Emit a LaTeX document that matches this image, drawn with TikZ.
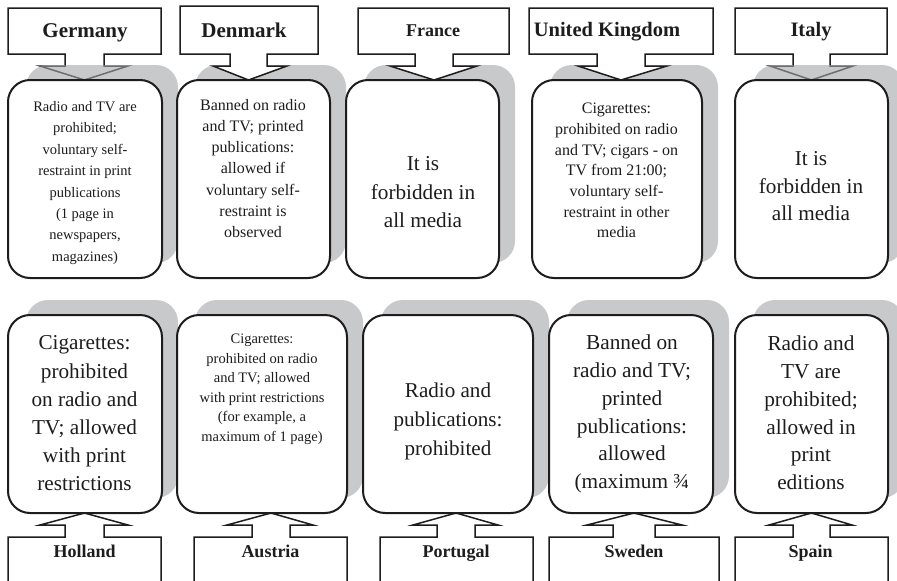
\documentclass[tikz,border=0pt]{standalone}
\usepackage{fontspec}
\setmainfont{Liberation Serif}
\definecolor{shadowbase}{RGB}{164,165,168}
\definecolor{inkc}{RGB}{30,28,29}
\tikzset{
  shadowbox/.style={fill=shadowbase, fill opacity=0.6, rounded corners=22pt},
  mainbox/.style={draw=inkc, line width=2pt, fill=white, rounded corners=22pt, inner sep=0pt},
  callout/.style={draw=inkc, line width=1.5pt, fill=white, line join=miter},
  hdr/.style={font=\bfseries\fontsize{#1}{#1}\selectfont, anchor=base, inner sep=0pt, text=inkc},
  body/.style={align=center, inner sep=0pt, anchor=center, text=inkc},
}
\newcommand{\topcallout}[7]{%
  \filldraw[callout] (#1,#3) -- (#2,#3) -- (#2,54) -- (#5,54) -- (#5,66) -- (#7,66)
    -- ({(#4+#5)/2},80) -- (#6,66) -- (#4,66) -- (#4,54) -- (#1,54) -- cycle;}
\newcommand{\botcallout}[6]{%
  \filldraw[callout] (#1,583) -- (#1,537) -- (#3,537) -- (#3,525) -- (#5,525)
    -- ({(#3+#4)/2},513) -- (#6,525) -- (#4,525) -- (#4,537) -- (#2,537) -- (#2,583);}
\newcommand{\shadowrect}[4]{\fill[shadowbox] ({#1+18},{#3-15}) rectangle ({#2+16},{#4-15});}
\begin{document}
\begin{tikzpicture}[x=1pt,y=-1pt]
\useasboundingbox (0,0) rectangle (897,581);
% callouts under the shadow
\topcallout{8}{161}{8}{65}{104}{40}{128}
\topcallout{735}{887}{8}{793}{830}{770}{853}
% shadows
\shadowrect{8}{162}{80}{278}
\shadowrect{177}{330}{80}{278}
\shadowrect{346}{499}{80}{278}
\shadowrect{532}{702}{80}{278}
\shadowrect{735}{888}{80}{278}
\shadowrect{8}{162}{315}{513}
\shadowrect{177}{347}{315}{513}
\shadowrect{363}{533}{315}{513}
\shadowrect{549}{713}{315}{513}
\shadowrect{735}{888}{315}{513}
% callouts above the shadow
\topcallout{180}{318}{6}{230}{267}{213}{287}
\topcallout{358}{509}{8}{415}{453}{390}{477}
\topcallout{529}{713}{8}{597}{645}{578}{667}
\botcallout{8}{161}{65}{104}{40}{128}
\botcallout{194}{347}{252}{290}{227}{313}
\botcallout{380}{533}{437}{475}{413}{498}
\botcallout{549}{719}{613}{655}{587}{682}
\botcallout{735}{888}{793}{830}{769}{852}
% main boxes
\node[mainbox, minimum width=154pt, minimum height=198pt] (bGer) at (85,179) {};
\node[mainbox, minimum width=153pt, minimum height=198pt] (bDen) at (253.5,179) {};
\node[mainbox, minimum width=153pt, minimum height=198pt] (bFra) at (422.5,179) {};
\node[mainbox, minimum width=170pt, minimum height=198pt] (bUK) at (617,179) {};
\node[mainbox, minimum width=153pt, minimum height=198pt] (bIta) at (811.5,179) {};
\node[mainbox, minimum width=154pt, minimum height=198pt] (bHol) at (85,414) {};
\node[mainbox, minimum width=170pt, minimum height=198pt] (bAut) at (262,414) {};
\node[mainbox, minimum width=170pt, minimum height=198pt] (bPor) at (448,414) {};
\node[mainbox, minimum width=164pt, minimum height=198pt] (bSwe) at (631,414) {};
\node[mainbox, minimum width=153pt, minimum height=198pt] (bSpa) at (811.5,414) {};
% headers
\node[hdr=21] (hGer) at (85,37) {Germany};
\node[hdr=21] (hDen) at (244,37) {Denmark};
\node[hdr=18] (hFra) at (433,36) {France};
\node[hdr=20.5] (hUK) at (607,36.7) {United Kingdom};
\node[hdr=20.5] (hIta) at (811,36.7) {Italy};
\node[hdr=18] (hHol) at (84.7,557) {Holland};
\node[hdr=18] (hAut) at (270.5,557) {Austria};
\node[hdr=18] (hPor) at (456,557) {Portugal};
\node[hdr=18] (hSwe) at (634,557) {Sweden};
\node[hdr=18] (hSpa) at (810.7,557) {Spain};
% body texts
\node[body, font=\fontsize{14.5}{21.4}\selectfont] (tGer) at (85,183)
  {Radio and TV are\\prohibited;\\voluntary self-\\restraint in print\\publications\\(1 page in\\newspapers,\\magazines)};
\node[body, font=\fontsize{16}{21.3}\selectfont] (tDen) at (253,168.5)
  {Banned on radio\\and TV; printed\\publications:\\allowed if\\voluntary self-\\restraint is\\observed};
\node[body, font=\fontsize{21.2}{28.5}\selectfont] (tFra) at (423,192.5)
  {It is\\forbidden in\\all media};
\node[body, font=\fontsize{16}{20.7}\selectfont] (tUK) at (616.5,170.5)
  {Cigarettes:\\prohibited on radio\\and TV; cigars - on\\TV from 21:00;\\voluntary self-\\restraint in other\\media};
\node[body, font=\fontsize{21.2}{27.5}\selectfont] (tIta) at (811,186.5)
  {It is\\forbidden in\\all media};
\node[body, font=\fontsize{21.2}{28.2}\selectfont] (tHol) at (84.5,413.5)
  {Cigarettes:\\prohibited\\on radio and\\TV; allowed\\with print\\restrictions};
\node[body, font=\fontsize{14.5}{19.5}\selectfont] (tAut) at (262,389.5)
  {Cigarettes:\\prohibited on radio\\and TV; allowed\\with print restrictions\\(for example, a\\maximum of 1 page)};
\node[body, font=\fontsize{21.1}{29}\selectfont] (tPor) at (448,421)
  {Radio and\\publications:\\prohibited};
\node[body, font=\fontsize{21.3}{27.8}\selectfont] (tSwe) at (632,414)
  {Banned on\\radio and TV;\\printed\\publications:\\allowed\\(maximum ¾};
\node[body, font=\fontsize{21.3}{27.8}\selectfont] (tSpa) at (811,413)
  {Radio and\\TV are\\prohibited;\\allowed in\\print\\editions};
\end{tikzpicture}
\end{document}
